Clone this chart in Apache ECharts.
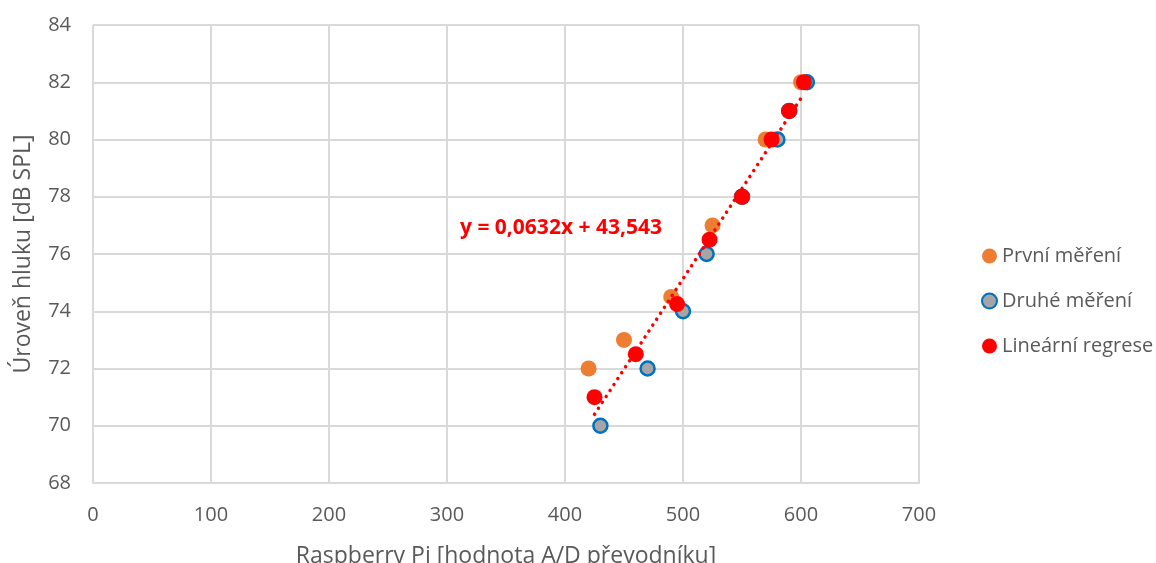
<!DOCTYPE html>
<html>

<head>
    <meta charset="utf-8">
    <title>ECharts</title>
    <script src="https://cdn.jsdelivr.net/npm/echarts@6/dist/echarts.min.js"></script>
</head>

<body style="margin:0">
    <div id="main" style="width: 1156px;height:563px;"></div>
    <script type="text/javascript">
        // data
        var firstX = [420, 450, 490, 525, 550, 570, 590, 600]
        var firstY = [72, 73, 74.5, 77, 78, 80, 81, 82]
        var secondX = [430, 470, 500, 520, 550, 580, 590, 605]
        var secondY = [70, 72, 74, 76, 78, 80, 81, 82]
        var regX = [425, 460, 495, 522.5, 550, 575, 590, 602.5]
        var regY = [71, 72.5, 74.25, 76.5, 78, 80, 81, 82]
        var trendX = [425, 602.5]
        var trendY = [70.4, 81.6]
        var seriesNames = ["První měření", "Druhé měření", "Lineární regrese"]
        var equation = "y = 0,0632x + 43,543"

        function pairs(xs, ys) {
            return xs.map(function (x, i) { return [x, ys[i]] })
        }

        var myChart = echarts.init(document.getElementById("main"))
        var font = "'Open Sans', sans-serif"
        var grey = "#595959"

        var option = {
            animation: false,
            backgroundColor: "#fff",
            textStyle: { fontFamily: font },
            grid: { left: 93, right: 237, top: 25, bottom: 80, outerBoundsMode: "none" },
            legend: {
                orient: "vertical",
                left: 976,
                top: 241,
                itemGap: 25,
                itemWidth: 15,
                itemHeight: 15,
                icon: "circle",
                data: seriesNames,
                textStyle: { fontSize: 20, color: grey, fontFamily: font }
            },
            xAxis: {
                type: "value",
                min: 0, max: 700, interval: 100,
                name: "Raspberry Pi [hodnota A/D převodníku]",
                nameLocation: "middle",
                nameGap: 62,
                nameTextStyle: { fontSize: 23, color: grey },
                axisLine: { show: true, lineStyle: { color: "#d9d9d9", width: 2 } },
                axisTick: { show: false },
                axisLabel: { fontSize: 20, color: grey, margin: 22 },
                splitLine: { show: true, lineStyle: { color: "#d9d9d9", width: 2 } }
            },
            yAxis: {
                type: "value",
                min: 68, max: 84, interval: 2,
                name: "Úroveň hluku [dB SPL]",
                nameLocation: "middle",
                nameGap: 58,
                nameTextStyle: { fontSize: 23, color: grey },
                axisLine: { show: false },
                axisTick: { show: false },
                axisLabel: { fontSize: 20, color: grey, margin: 22 },
                splitLine: { show: true, lineStyle: { color: "#d9d9d9", width: 2 } }
            },
            graphic: [{
                type: "text",
                left: 460,
                top: 218,
                z: 10,
                style: {
                    text: equation,
                    fill: "#ff0000",
                    font: "bold 21px " + font
                }
            }],
            series: [
                {
                    name: seriesNames[0],
                    type: "scatter",
                    symbolSize: 16,
                    itemStyle: { color: "#ed7d31", opacity: 1 },
                    data: pairs(firstX, firstY)
                },
                {
                    name: seriesNames[1],
                    type: "scatter",
                    symbolSize: 14,
                    itemStyle: { color: "#a5a5a5", borderColor: "#0070c0", borderWidth: 2.5, opacity: 1 },
                    data: pairs(secondX, secondY)
                },
                {
                    name: "trend",
                    type: "line",
                    symbol: "none",
                    z: 3,
                    lineStyle: { color: "#ff0000", width: 3.5, type: [0.1, 7], cap: "round" },
                    data: pairs(trendX, trendY)
                },
                {
                    name: seriesNames[2],
                    type: "scatter",
                    symbolSize: 16,
                    z: 4,
                    itemStyle: { color: "#ff0000", opacity: 1 },
                    data: pairs(regX, regY)
                }
            ]
        }
        myChart.setOption(option)
    </script>
</body>

</html>
